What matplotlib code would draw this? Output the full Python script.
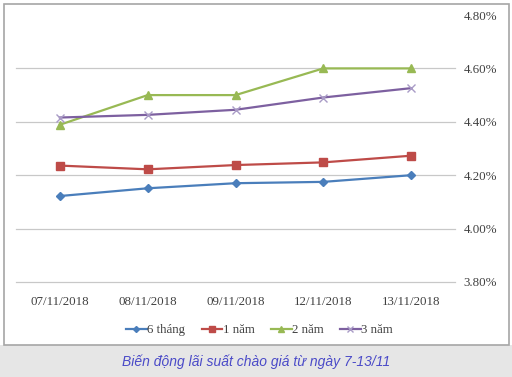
import matplotlib.pyplot as plt
from matplotlib.patches import Rectangle
from matplotlib.ticker import FuncFormatter

# dates and rate series (%)
dates = ['07/11/2018', '08/11/2018', '09/11/2018', '12/11/2018', '13/11/2018']
six_month = [4.122, 4.151, 4.170, 4.175, 4.200]
one_year = [4.236, 4.222, 4.238, 4.248, 4.273]
two_year = [4.389, 4.500, 4.500, 4.600, 4.600]
three_year = [4.416, 4.426, 4.445, 4.491, 4.526]
labels = ['6 tháng', '1 năm', '2 năm', '3 năm']
y_ticks = [3.8, 4.0, 4.2, 4.4, 4.6, 4.8]

plt.rcParams['font.family'] = ['Liberation Serif', 'DejaVu Serif']

fig = plt.figure(figsize=(5.12, 3.77), dpi=100)

# outer chart frame and caption strip
fig.patches.append(Rectangle((0, 0), 1, 32 / 377, transform=fig.transFigure,
                             facecolor='#e6e6e6', edgecolor='none', zorder=-2))
fig.patches.append(Rectangle((4 / 512, 32 / 377), 505 / 512, 341 / 377, transform=fig.transFigure,
                             facecolor='white', edgecolor='#a6a6a6', lw=1.2, zorder=-1))

ax = fig.add_axes([16 / 512, 1 - 282 / 377, 439 / 512, 267 / 377])
ax.set_zorder(2)
ax.set_facecolor('none')
x = range(len(dates))

ax.plot(x, six_month, color='#4a7ebb', lw=1.6, marker='D', ms=3.8, label=labels[0])
ax.plot(x, one_year, color='#be4b48', lw=1.6, marker='s', ms=5.5, label=labels[1])
ax.plot(x, two_year, color='#98b954', lw=1.6, marker='^', ms=5.5, label=labels[2])
ax.plot(x, three_year, color='#7d60a0', lw=1.6, marker='x', ms=5.5, mew=1.0,
        mec='#a99bc6', label=labels[3])

ax.set_xlim(-0.5, len(dates) - 0.5)
ax.set_ylim(3.8, 4.8)
ax.set_yticks(y_ticks)
ax.yaxis.tick_right()
ax.yaxis.set_major_formatter(FuncFormatter(lambda v, _: '{:.2f}%'.format(v)))
ax.set_xticks(list(x))
ax.set_xticklabels(dates)
ax.tick_params(axis='y', length=0, pad=6, labelsize=9.3, colors='#404040')
ax.tick_params(axis='x', length=0, pad=10, labelsize=9.3, colors='#404040')

for s in ax.spines.values():
    s.set_visible(False)
for v in y_ticks[:-1]:
    ax.axhline(v, color='#c8c8c8', lw=0.9, zorder=0, clip_on=False)

ax.legend(loc='upper center', bbox_to_anchor=(0.555, -0.115), ncol=4, frameon=False,
          fontsize=9.3, handlelength=1.6, handletextpad=0.05, columnspacing=1.25,
          markerscale=0.8, labelcolor='#404040')

fig.text(0.5, 1 - 362 / 377, 'Biến động lãi suất chào giá từ ngày 7-13/11',
         ha='center', va='center', fontsize=10, style='italic',
         color='#4a4ac8', family=['Liberation Sans', 'DejaVu Sans'])

fig.savefig('out.png', dpi=100)
